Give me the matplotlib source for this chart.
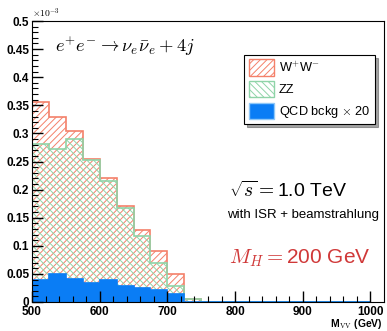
import numpy as np
import matplotlib
matplotlib.use('Agg')
import matplotlib.pyplot as plt
from matplotlib.patches import Patch

plt.rcParams['font.family'] = ['Liberation Sans', 'DejaVu Sans']
plt.rcParams['mathtext.fontset'] = 'cm'
plt.rcParams['hatch.linewidth'] = 0.7

# bins of 25 GeV, values in units of 1e-3
edges = np.arange(500, 1025, 25)
ww_total = [0.355, 0.329, 0.304, 0.254, 0.220, 0.171, 0.129, 0.091, 0.049, 0.006,
            0, 0, 0, 0, 0, 0, 0, 0, 0, 0]
zz = [0.281, 0.272, 0.290, 0.253, 0.215, 0.168, 0.118, 0.070, 0.029, 0.005,
      0, 0, 0, 0, 0, 0, 0, 0, 0, 0]
qcd = [0.039, 0.049, 0.041, 0.034, 0.039, 0.028, 0.025, 0.022, 0.014, 0.0,
       0, 0, 0, 0, 0, 0, 0, 0, 0, 0]

xticks = [500, 600, 700, 800, 900, 1000]
yticks = ['0', '0.05', '0.1', '0.15', '0.2', '0.25', '0.3', '0.35', '0.4', '0.45', '0.5']

red = '#f4806a'
green = '#8fd4a8'
blue = '#0a7df5'

fig = plt.figure(figsize=(3.87, 3.31), dpi=100)
ax = fig.add_axes([32/387, 29/331, 352/387, 281/331])

ax.bar(edges[:-1], ww_total, width=25, align='edge', facecolor='none',
       edgecolor=red, hatch='/////', linewidth=0)
ax.bar(edges[:-1], zz, width=25, align='edge', facecolor='none',
       edgecolor=green, hatch='\\\\\\\\\\', linewidth=0)
ax.stairs(ww_total, edges, color=red, linewidth=1.2)
ax.stairs(zz, edges, color=green, linewidth=1.2)
ax.stairs(qcd, edges, fill=True, color=blue, linewidth=0)
ax.stairs(qcd, edges, color=blue, linewidth=1.2)

ax.set_xlim(500, 1020)
ax.set_ylim(0, 0.5)
ax.set_xticks(xticks)
ax.set_xticklabels([str(t) for t in xticks], fontweight='bold')
ax.set_xticks(np.arange(500, 1020, 20), minor=True)
ax.set_yticks(np.arange(0, 0.51, 0.05))
ax.set_yticklabels(yticks, fontweight='bold')
ax.set_yticks(np.arange(0, 0.5, 0.01), minor=True)
ax.tick_params(which='both', direction='in', labelsize=8.5)
ax.tick_params(axis='x', pad=3)
ax.tick_params(axis='y', pad=2)
ax.tick_params(which='major', length=8, width=1)
ax.tick_params(which='minor', length=4, width=0.8)

ax.text(0.0, 1.005, r'$\times10^{-3}$', transform=ax.transAxes, fontsize=7,
        ha='left', va='bottom', family='DejaVu Sans')
ax.text(0.997, -0.055, r'M$_{\rm VV}$ (GeV)', transform=ax.transAxes,
        fontsize=7.5, ha='right', va='top', fontweight='bold')

ax.text(0.065, 0.91, r'$e^{+}e^{-}\rightarrow\nu_{e}\bar{\nu}_{e}+4j$',
        transform=ax.transAxes, fontsize=13.3, ha='left', va='center')
ax.text(0.56, 0.395, r'$\sqrt{s} = $1.0 TeV', transform=ax.transAxes,
        fontsize=14, ha='left', va='center')
ax.text(0.555, 0.31, 'with ISR + beamstrahlung', transform=ax.transAxes,
        fontsize=9.5, ha='left', va='center')
ax.text(0.56, 0.155, r'$M_H = $200 GeV', transform=ax.transAxes,
        fontsize=15, ha='left', va='center', color='#d03838')

handles = [Patch(facecolor='none', edgecolor=red, hatch='/////', label=r'W$^{+}$W$^{-}$'),
           Patch(facecolor='none', edgecolor=green, hatch='\\\\\\\\\\', label='ZZ'),
           Patch(facecolor=blue, edgecolor='#8fc8f8', label=r'QCD bckg $\times$ 20')]
leg = ax.legend(handles=handles, loc='upper left', bbox_to_anchor=(0.603, 0.879),
                borderaxespad=0, fontsize=9.2, frameon=True, shadow=True,
                fancybox=False, framealpha=1, edgecolor='black', borderpad=0.35,
                handlelength=2.0, handleheight=1.6, labelspacing=0.4,
                handletextpad=0.35)
leg.get_frame().set_linewidth(0.8)

fig.savefig('out.png', dpi=100)
